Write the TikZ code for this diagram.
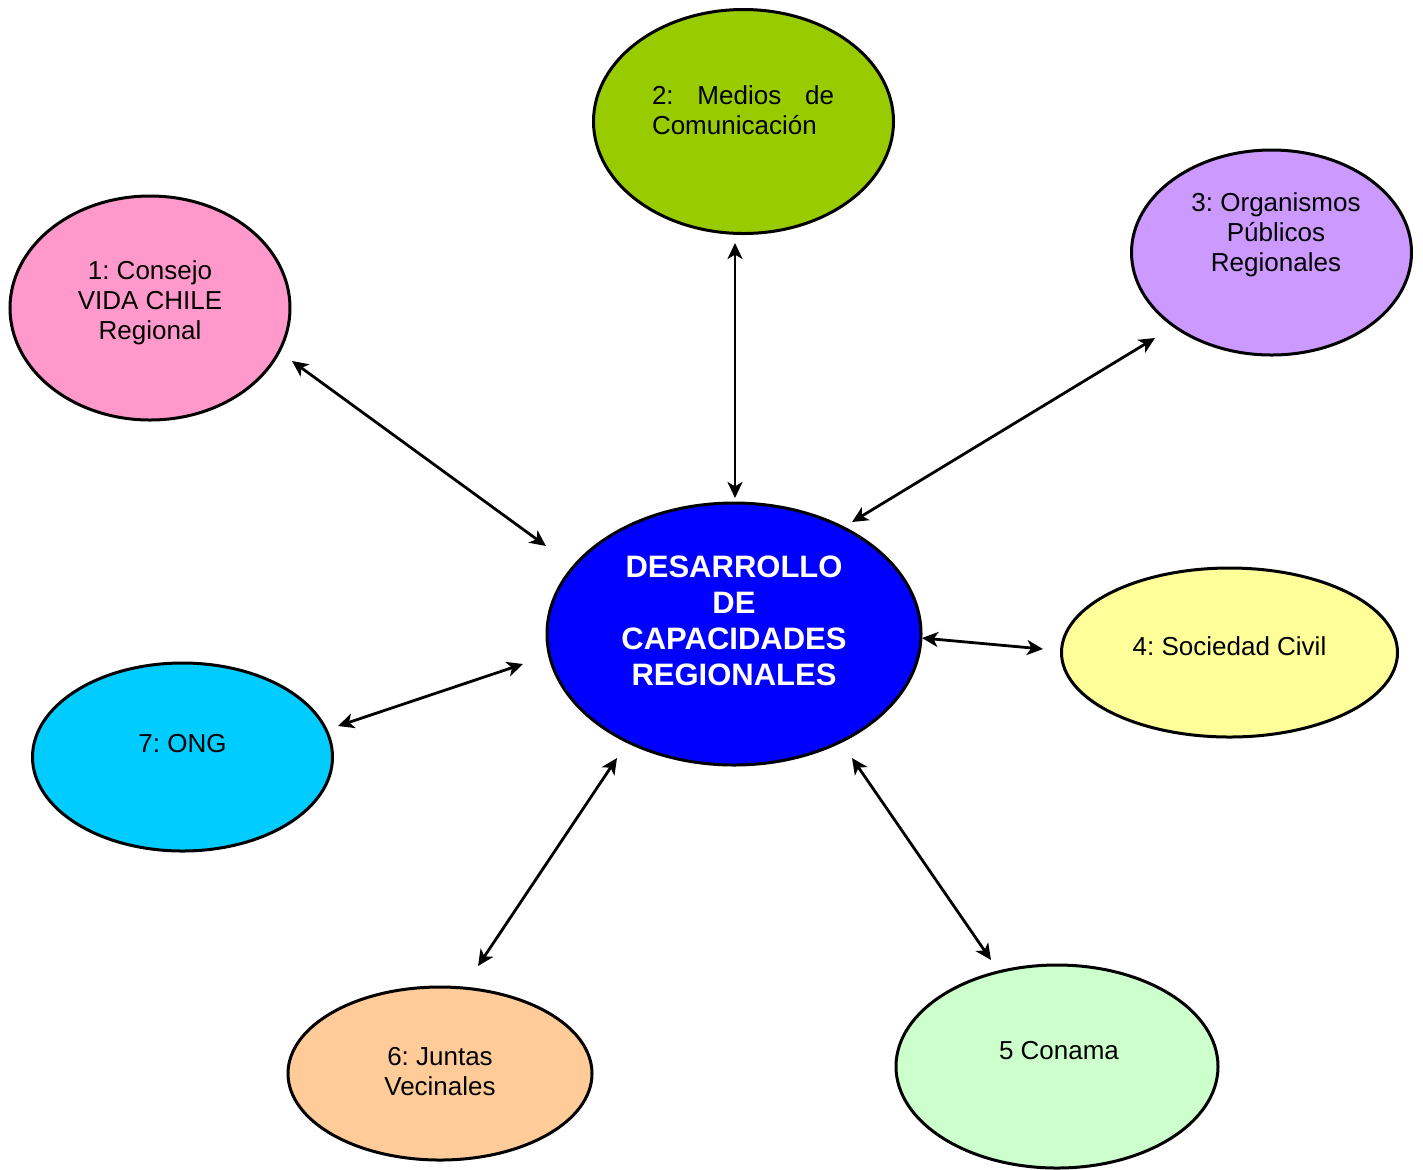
\documentclass[tikz,border=0pt]{standalone}
\usepackage{fontspec}
\setmainfont{Liberation Sans}
\usetikzlibrary{shapes.geometric,arrows.meta}
\definecolor{desarc}{RGB}{0,0,255}
\definecolor{consejoc}{RGB}{255,153,204}
\definecolor{mediosc}{RGB}{153,204,0}
\definecolor{organc}{RGB}{204,153,255}
\definecolor{civilc}{RGB}{255,255,153}
\definecolor{conamac}{RGB}{204,255,204}
\definecolor{juntasc}{RGB}{255,204,153}
\definecolor{ongc}{RGB}{0,204,255}
\frenchspacing

\begin{document}
\begin{tikzpicture}[x=0.5pt,y=-0.5pt,>={Stealth[length=8pt,width=7.5pt,inset=2.2pt]},
  bubble/.style={ellipse,draw=black,line width=1.5pt,inner sep=0pt},
  txt/.style={align=center,inner sep=0pt,font=\fontsize{13}{15}\selectfont},
  link/.style={<->,line width=1.4pt}]
  \useasboundingbox (0,0) rectangle (1423,1169);
  % bubbles
  \node[bubble,fill=desarc,minimum width=187pt,minimum height=131pt] (desar) at (734,634) {};
  \node[bubble,fill=consejoc,minimum width=140pt,minimum height=112pt] (consejo) at (150,308) {};
  \node[bubble,fill=mediosc,minimum width=150pt,minimum height=112pt] (medios) at (743.5,121.5) {};
  \node[bubble,fill=organc,minimum width=140pt,minimum height=102.5pt] (organ) at (1271.5,252.5) {};
  \node[bubble,fill=civilc,minimum width=168pt,minimum height=84.5pt] (civil) at (1229.5,652.5) {};
  \node[bubble,fill=conamac,minimum width=161pt,minimum height=101.5pt] (conama) at (1057,1066.5) {};
  \node[bubble,fill=juntasc,minimum width=152pt,minimum height=86.5pt] (juntas) at (440,1073.5) {};
  \node[bubble,fill=ongc,minimum width=150pt,minimum height=94pt] (ong) at (182.5,757) {};
  % texts
  \node[txt,text=white,font=\fontsize{15.5}{18}\selectfont\bfseries] (desarT) at (734,621)
    {DESARROLLO\\DE\\CAPACIDADES\\REGIONALES};
  \node[txt] (consejoT) at (150,303) {1: Consejo\\VIDA CHILE\\Regional};
  \node[txt,align=left,text width=91pt] (mediosT) at (743,110) {2:\hfill Medios\hfill de\\Comunicación};
  \node[txt] (organT) at (1276,235) {3: Organismos\\Públicos\\Regionales};
  \node[txt] (civilT) at (1229.5,646) {4: Sociedad Civil};
  \node[txt] (conamaT) at (1059,1051) {5 Conama};
  \node[txt] (juntasT) at (440,1072) {6: Juntas\\Vecinales};
  \node[txt] (ongT) at (182.5,744) {7: ONG};
  % arrow ends
  \coordinate (e1a) at (292,361);  \coordinate (e1b) at (546,546);
  \coordinate (e2a) at (735,243);  \coordinate (e2b) at (735,498);
  \coordinate (e3a) at (1155,338); \coordinate (e3b) at (852,522);
  \coordinate (e4a) at (1043,649); \coordinate (e4b) at (922,638);
  \coordinate (e5a) at (991,960);  \coordinate (e5b) at (852,758);
  \coordinate (e6a) at (478,966);  \coordinate (e6b) at (617,758);
  \coordinate (e7a) at (338,726);  \coordinate (e7b) at (523,664);
  % connectors
  \draw[link] (e1a) -- (e1b);
  \draw[link] (e2a) -- (e2b);
  \draw[link] (e3a) -- (e3b);
  \draw[link] (e4a) -- (e4b);
  \draw[link] (e5a) -- (e5b);
  \draw[link] (e6a) -- (e6b);
  \draw[link] (e7a) -- (e7b);
\end{tikzpicture}
\end{document}
